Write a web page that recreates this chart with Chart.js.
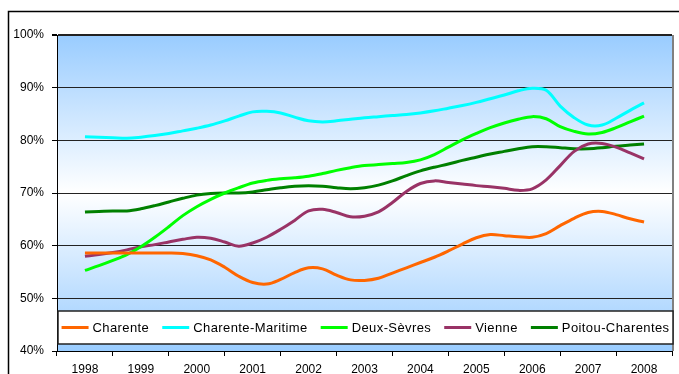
<!DOCTYPE html>
<html lang="fr">
<head>
<meta charset="utf-8">
<script src="https://cdn.jsdelivr.net/npm/chart.js@4.4.1/dist/chart.umd.min.js"></script>
<style>
  html, body { margin: 0; padding: 0; background: #fff; }
  #zone { position: relative; width: 679px; height: 374px; }
</style>
</head>
<body>
<div id="zone"><canvas id="graphique" width="679" height="374"></canvas></div>
<script>
// Années affichées sous l'axe
const ANNEES = ["1998", "1999", "2000", "2001", "2002", "2003", "2004", "2005", "2006", "2007", "2008"];

// Taux trimestriels (%), de 1998 à 2008
const CHARENTE = [58.6, 58.6, 58.6, 58.6, 58.6, 58.6, 58.6, 58.5, 58.1, 57.3, 55.9, 54.2, 53.0, 52.7, 53.6, 54.9, 55.8, 55.6, 54.4, 53.5,
  53.4, 53.8, 54.8, 55.8, 56.8, 57.8, 59.0, 60.3, 61.5, 62.1, 61.9, 61.7, 61.6, 62.3, 63.8, 65.2, 66.3, 66.5, 65.9, 65.1, 64.5];
const CHARENTE_MARITIME = [80.7, 80.6, 80.5, 80.4, 80.6, 80.9, 81.3, 81.8, 82.3, 82.9, 83.7, 84.6, 85.4, 85.5, 85.2, 84.4, 83.7, 83.5, 83.7, 84.0,
  84.3, 84.5, 84.7, 84.9, 85.2, 85.6, 86.1, 86.6, 87.2, 87.9, 88.6, 89.4, 89.9, 89.5, 86.5, 84.3, 82.9, 82.9, 84.2, 85.7, 87.1];
const DEUX_SEVRES = [55.3, 56.2, 57.2, 58.3, 59.8, 61.6, 63.6, 65.7, 67.4, 68.8, 70.0, 71.0, 71.9, 72.4, 72.7, 72.9, 73.2, 73.7, 74.3, 74.8,
  75.2, 75.4, 75.6, 75.8, 76.3, 77.3, 78.7, 80.1, 81.3, 82.4, 83.3, 84.0, 84.5, 84.1, 82.6, 81.7, 81.2, 81.5, 82.4, 83.5, 84.6];
const VIENNE = [58.0, 58.3, 58.7, 59.2, 59.8, 60.2, 60.7, 61.2, 61.6, 61.4, 60.7, 59.9, 60.5, 61.6, 63.1, 64.8, 66.6, 66.9, 66.3, 65.5,
  65.6, 66.4, 68.2, 70.3, 71.8, 72.3, 72.0, 71.7, 71.4, 71.2, 70.9, 70.5, 70.8, 72.5, 75.2, 77.9, 79.3, 79.4, 78.7, 77.6, 76.5];
const POITOU_CHARENTES = [66.4, 66.5, 66.6, 66.6, 67.0, 67.6, 68.3, 69.0, 69.6, 69.9, 70.0, 70.0, 70.2, 70.6, 71.0, 71.3, 71.4, 71.3, 71.0, 70.8,
  71.0, 71.5, 72.3, 73.3, 74.2, 74.9, 75.5, 76.2, 76.8, 77.4, 77.9, 78.4, 78.8, 78.8, 78.6, 78.4, 78.4, 78.6, 78.9, 79.1, 79.3];

const NOMS = ["Charente", "Charente-Maritime", "Deux-Sèvres", "Vienne", "Poitou-Charentes"];
const SERIES = [CHARENTE, CHARENTE_MARITIME, DEUX_SEVRES, VIENNE, POITOU_CHARENTES];
const COULEURS = ["#FF6600", "#00FFFF", "#00FF00", "#993366", "#008000"];

const POLICE = '"Liberation Sans", Arial, sans-serif';

// un point par trimestre : 1998.00, 1998.25, ...
function versPoints(valeurs) {
  return valeurs.map((v, i) => ({ x: 1998 + i / 4, y: v }));
}

// Cadre extérieur + fond dégradé de la zone de traçage
const fond = {
  id: "fond",
  beforeDraw(chart) {
    const { ctx, chartArea: a } = chart;
    ctx.save();
    ctx.fillStyle = "#fff";
    ctx.fillRect(0, 0, chart.width, chart.height);
    const g = ctx.createLinearGradient(0, a.top, 0, a.bottom);
    g.addColorStop(0, "#99CCFF");
    g.addColorStop(0.5, "#FFFFFF");
    g.addColorStop(1, "#99CCFF");
    ctx.fillStyle = g;
    ctx.fillRect(a.left, a.top, a.right - a.left, a.bottom - a.top);
    ctx.strokeStyle = "#000";
    ctx.lineWidth = 1.5;
    ctx.beginPath();
    ctx.moveTo(8.5, chart.height);
    ctx.lineTo(8.5, 11.5);
    ctx.lineTo(chart.width, 11.5);
    ctx.stroke();
    ctx.restore();
  }
};

// Bordure droite et légende encadrée en bas de la zone de traçage
const legende = {
  id: "legendeEncadree",
  afterDraw(chart) {
    const { ctx, chartArea: a } = chart;
    ctx.save();
    ctx.strokeStyle = "#808080";
    ctx.lineWidth = 2;
    ctx.beginPath();
    ctx.moveTo(a.right + 1, a.top);
    ctx.lineTo(a.right + 1, a.bottom);
    ctx.stroke();

    const haut = a.bottom - 40, bas = a.bottom - 7;
    const gauche = a.left + 1, droite = a.right + 1;
    ctx.fillStyle = "#fff";
    ctx.fillRect(gauche, haut, droite - gauche, bas - haut);
    ctx.strokeStyle = "#222";
    ctx.lineWidth = 1.5;
    ctx.strokeRect(gauche, haut, droite - gauche, bas - haut);

    ctx.font = "13px " + POLICE;
    if ("letterSpacing" in ctx) ctx.letterSpacing = "0.4px";
    const trait = 27, ecart = 4, sep = 13;
    const largeurs = NOMS.map(n => ctx.measureText(n).width);
    const total = largeurs.reduce((s, w) => s + trait + ecart + w, 0) + sep * (NOMS.length - 1);
    let x = (gauche + droite) / 2 - total / 2;
    const y = (haut + bas) / 2;
    ctx.textBaseline = "middle";
    NOMS.forEach((nom, i) => {
      ctx.strokeStyle = COULEURS[i];
      ctx.lineWidth = 3;
      ctx.beginPath();
      ctx.moveTo(x, y);
      ctx.lineTo(x + trait, y);
      ctx.stroke();
      x += trait + ecart;
      ctx.fillStyle = "#000";
      ctx.fillText(nom, x, y + 1);
      x += largeurs[i] + sep;
    });
    ctx.restore();
  }
};

new Chart(document.getElementById("graphique"), {
  type: "line",
  data: {
    datasets: SERIES.map((valeurs, i) => ({
      label: NOMS[i],
      data: versPoints(valeurs),
      borderColor: COULEURS[i],
      backgroundColor: COULEURS[i],
      borderWidth: 3,
      pointRadius: 0,
      tension: 0.35,
      fill: false,
      xAxisID: "x",
      yAxisID: "y"
    }))
  },
  options: {
    responsive: false,
    animation: false,
    devicePixelRatio: 1,
    layout: { padding: { top: 35, right: 7, left: 0, bottom: 0 } },
    plugins: { legend: { display: false }, tooltip: { enabled: false } },
    scales: {
      x: { type: "linear", min: 1997.5, max: 2008.5, display: false },
      annees: {
        type: "category",
        labels: ANNEES,
        position: "bottom",
        offset: true,
        grid: { offset: true, drawOnChartArea: false, tickLength: 5, tickColor: "#000" },
        border: { color: "#000", width: 1 },
        ticks: { color: "#000", font: { family: POLICE, size: 12 }, padding: 6, maxRotation: 0, autoSkip: false },
        afterFit: s => { s.height = 23; }
      },
      y: {
        min: 40,
        max: 100,
        ticks: { stepSize: 10, color: "#000", font: { family: POLICE, size: 12 }, padding: 8, callback: v => v + "%" },
        grid: {
          color: "#222",
          lineWidth: c => (c.tick && c.tick.value === 100 ? 2 : 1),
          tickLength: 5,
          tickColor: "#000"
        },
        border: { color: "#000", width: 1 },
        afterFit: s => { s.width = 57; }
      }
    }
  },
  plugins: [fond, legende]
});
</script>
</body>
</html>
